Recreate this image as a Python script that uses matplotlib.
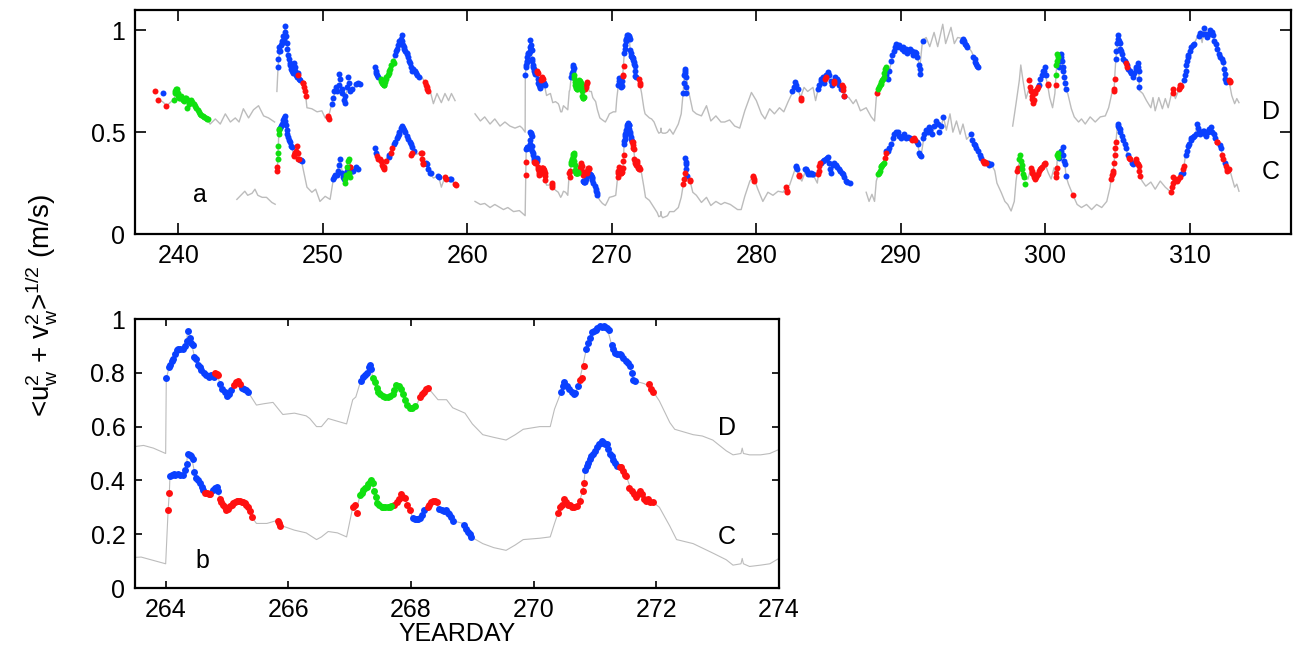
import numpy as np
import matplotlib
matplotlib.use('Agg')
import matplotlib.pyplot as plt
from matplotlib.ticker import FormatStrFormatter

plt.rcParams['font.family'] = ['Liberation Sans', 'DejaVu Sans']
plt.rcParams['mathtext.default'] = 'regular'
plt.rcParams['font.size'] = 18

nan = np.nan

# ---- mooring D: gray trace (nan = data gap) ----
d_line_x = [238.6, 238.9, 239.2, 239.5, 239.7, 239.9, 240.1, 240.4, 240.7, 241.0, 241.3, 241.5, 241.8, 242.0,
            242.2, 242.56, 242.9, 243.25, 243.6, 243.94, 244.2, 244.5, 244.86, 245.2, 245.55, 245.9, 246.24, 246.66, nan,
            246.82, 246.9, 247.0, 247.15, 247.28, 247.4, 247.5, 247.63, 247.86, 248.09, 248.3, 248.5, 248.66, 248.78,
            248.9, 249.24, 249.6, 249.93, 250.16, 250.39, 250.62, 250.85, 251.0, 251.2, 251.4, 251.54, 251.77, 252.0,
            252.35, 252.58, nan,
            253.62, 253.75, 254.0, 254.26, 254.45, 254.65, 254.88, 255.1, 255.35, 255.46, 255.7, 255.92, 256.15, 256.4,
            256.61, 256.85, 257.07, 257.26, 257.42, 257.65, 257.9, 258.2, 258.45, 258.7, 258.9, 259.15, nan,
            260.53, 260.9, 261.2, 261.57, 261.9, 262.26, 262.6, 262.95, 263.3, 263.64, 263.8, 264.0,
            264.01, 264.07, 264.12, 264.2, 264.28, 264.34, 264.36, 264.42, 264.47, 264.53, 264.58, 264.66, 264.75,
            264.83, 264.9, 264.97, 265.02, 265.08, 265.18, 265.26, 265.34, 265.48, 265.6, 265.75, 265.91, 266.1,
            266.29, 266.35, 266.46, 266.54, 266.65, 266.8, 266.95, 267.05, 267.1, 267.18, 267.28, 267.33, 267.38,
            267.49, 267.6, 267.7, 267.76, 267.84, 267.9, 267.98, 268.07, 268.15, 268.25, 268.33, 268.44, 268.58,
            268.68, 268.88, 269.0, 269.17, 269.35, 269.55, 269.7, 269.83, 270.1, 270.27, 270.34, 270.45, 270.5,
            270.58, 270.67, 270.75, 270.8, 270.86, 270.95, 271.08, 271.2, 271.27, 271.35, 271.43, 271.5, 271.57,
            271.62, 271.72, 271.8, 271.88, 271.95, 272.05, 272.22, 272.3, 272.45, 272.6, 272.75, 272.92, 273.14,
            273.25, 273.38, 273.4, 273.42, 273.52, 273.7, 273.85, 274.0, 274.24, 274.6, 274.8, 274.93, 275.05,
            275.15, 275.3, 275.6, 275.85, 276.2, 276.55, 276.85, 277.2, 277.55, 277.81, 278.15, 278.5, 278.85,
            279.2, 279.66, 280.0, 280.35, 280.6, 280.92, 281.25, 281.6, 281.9, 282.2, 282.5, 282.76, 283.06, 283.3,
            283.55, 283.92, 284.1, 284.27, 284.5, 284.77, 284.95, 285.15, 285.37, 285.55, 285.92, 286.04, 286.4,
            286.7, 286.9, 287.2, 287.6, 287.95, 288.18, 288.3, 288.37, 288.53, 288.64, 288.83, 289.0, 289.2, 289.45,
            289.68, 290.0, 290.36, 290.7, 290.95, 291.17, 291.3, 291.5, 291.75, 292.0, 292.3, 292.55, 292.9, 293.1,
            293.47, 293.7, 293.93, 294.27, 294.5, 294.75, 294.9, 295.1, 295.2, 295.33, nan,
            297.74, 297.97, 298.2, 298.3, 298.45, 298.66, 298.9, 299.1, 299.3, 299.5, 299.7, 299.93, 300.15, 300.3,
            300.5, 300.66, 300.75, 300.9, 301.0, 301.1, 301.2, 301.3, 301.4, 301.55, 301.8, 302.0, 302.3, 302.5,
            302.76, 303.1, 303.45, 303.8, 304.15, 304.38, 304.6, 304.76, 304.82, 304.88, 305.05, 305.15, 305.3,
            305.45, 305.6, 305.8, 306.05, 306.28, 306.46, 306.5, 306.74, 307.0, 307.3, 307.45, 307.6, 307.85, 308.1,
            308.3, 308.5, 308.8, 309.0, 309.3, 309.45, 309.6, 309.72, 309.85, 310.1, 310.3, 310.5, 310.7, 310.85,
            311.0, 311.2, 311.4, 311.6, 311.8, 312.0, 312.3, 312.4, 312.5, 312.7, 312.9, 313.1, 313.25, 313.4]
d_line_y = [0.66, 0.65, 0.63, 0.65, 0.66, 0.71, 0.67, 0.65, 0.64, 0.64, 0.61, 0.59, 0.58, 0.565,
            0.54, 0.565, 0.54, 0.59, 0.55, 0.57, 0.55, 0.615, 0.57, 0.61, 0.63, 0.58, 0.57, 0.55, nan,
            0.70, 0.82, 0.90, 0.94, 0.965, 1.02, 0.95, 0.87, 0.81, 0.835, 0.77, 0.755, 0.74, 0.70,
            0.62, 0.615, 0.60, 0.605, 0.57, 0.575, 0.64, 0.70, 0.72, 0.74, 0.69, 0.68, 0.72, 0.70,
            0.735, 0.74, nan,
            0.82, 0.79, 0.76, 0.73, 0.77, 0.81, 0.85, 0.90, 0.95, 0.975, 0.91, 0.885, 0.81, 0.80,
            0.78, 0.77, 0.745, 0.70, 0.705, 0.64, 0.69, 0.645, 0.69, 0.655, 0.69, 0.655, nan,
            0.59, 0.555, 0.575, 0.54, 0.565, 0.53, 0.55, 0.53, 0.52, 0.53, 0.52, 0.50,
            0.78, 0.83, 0.85, 0.89, 0.89, 0.92, 0.955, 0.91, 0.86, 0.83, 0.81, 0.79, 0.79,
            0.80, 0.75, 0.72, 0.71, 0.74, 0.765, 0.74, 0.73, 0.68, 0.685, 0.69, 0.645, 0.65,
            0.64, 0.63, 0.60, 0.60, 0.63, 0.62, 0.61, 0.70, 0.71, 0.77, 0.80, 0.83, 0.78,
            0.72, 0.71, 0.715, 0.755, 0.74, 0.70, 0.67, 0.67, 0.71, 0.745, 0.73, 0.70, 0.70,
            0.67, 0.65, 0.61, 0.57, 0.56, 0.55, 0.57, 0.59, 0.60, 0.60, 0.665, 0.73, 0.765,
            0.74, 0.72, 0.775, 0.825, 0.89, 0.95, 0.975, 0.965, 0.905, 0.875, 0.865, 0.845, 0.826,
            0.775, 0.765, 0.76, 0.75, 0.73, 0.695, 0.615, 0.59, 0.58, 0.57, 0.565, 0.55, 0.51,
            0.495, 0.50, 0.52, 0.50, 0.495, 0.495, 0.50, 0.515, 0.49, 0.54, 0.59, 0.69, 0.81,
            0.77, 0.705, 0.605, 0.59, 0.58, 0.63, 0.555, 0.58, 0.55, 0.55, 0.56, 0.53, 0.52,
            0.605, 0.695, 0.655, 0.59, 0.565, 0.615, 0.59, 0.62, 0.60, 0.65, 0.695, 0.745, 0.67, 0.72,
            0.70, 0.72, 0.655, 0.71, 0.76, 0.76, 0.795, 0.72, 0.75, 0.77, 0.73, 0.68, 0.67,
            0.64, 0.66, 0.605, 0.62, 0.575, 0.555, 0.67, 0.69, 0.72, 0.745, 0.77, 0.82, 0.80, 0.885,
            0.935, 0.92, 0.91, 0.90, 0.895, 0.87, 0.81, 0.95, 0.965, 0.92, 0.99, 0.92, 1.03, 0.935,
            1.015, 0.935, 0.965, 0.96, 0.935, 0.91, 0.895, 0.86, 0.835, 0.82, nan,
            0.53, 0.64, 0.755, 0.83, 0.755, 0.665, 0.72, 0.665, 0.69, 0.72, 0.755, 0.80, 0.735, 0.67,
            0.62, 0.69, 0.80, 0.85, 0.82, 0.885, 0.81, 0.77, 0.71, 0.69, 0.615, 0.575, 0.55, 0.565,
            0.54, 0.575, 0.55, 0.575, 0.58, 0.62, 0.69, 0.71, 0.795, 0.86, 0.975, 0.94, 0.885,
            0.85, 0.84, 0.81, 0.77, 0.81, 0.845, 0.705, 0.69, 0.655, 0.62, 0.67, 0.605, 0.67, 0.615,
            0.665, 0.62, 0.71, 0.665, 0.72, 0.73, 0.755, 0.80, 0.87, 0.92, 0.935, 0.965, 0.985, 0.94,
            1.01, 0.965, 1.0, 0.975, 0.935, 0.885, 0.845, 0.785, 0.745, 0.755, 0.68, 0.64, 0.665, 0.645]

# ---- mooring C: gray trace ----
c_line_x = [244.05, 244.4, 244.6, 244.8, 245.1, 245.3, 245.5, 245.8, 246.1, 246.47, 246.7, nan,
            246.82, 246.86, 246.9, 246.95, 247.0, 247.17, 247.35, 247.5, 247.63, 247.86, 247.97, 248.08, 248.2,
            248.3, 248.5, 248.9, 249.24, 249.5, 249.8, 250.16, 250.5, 250.74, 250.95, 251.2, 251.4, 251.54,
            251.77, 251.9, 252.1, 252.46, nan,
            253.62, 253.75, 253.97, 254.2, 254.5, 254.77, 255.0, 255.23, 255.46, 255.7, 255.92, 256.15, 256.4,
            256.84, 256.95, 257.2, 257.4, 257.65, 258.0, 258.2, 258.45, 258.8, 259.15, nan,
            260.53, 260.9, 261.2, 261.57, 261.9, 262.5, 262.8, 263.2, 263.6, 264.0, 264.04, 264.06, 264.07,
            264.12, 264.2, 264.28, 264.34, 264.36, 264.42, 264.47, 264.53, 264.61, 264.66, 264.8, 264.85, 264.9,
            264.99, 265.1, 265.18, 265.26, 265.34, 265.4, 265.48, 265.65, 265.8, 265.91, 266.1, 266.29, 266.46,
            266.54, 266.65, 266.8, 266.95, 267.05, 267.12, 267.17, 267.25, 267.35, 267.4, 267.45, 267.55, 267.68,
            267.73, 267.84, 267.9, 267.98, 268.03, 268.14, 268.22, 268.3, 268.38, 268.46, 268.57, 268.62, 268.68,
            268.85, 268.98, 269.17, 269.35, 269.55, 269.7, 269.83, 270.1, 270.27, 270.34, 270.4, 270.45, 270.5,
            270.6, 270.7, 270.75, 270.8, 270.82, 270.84, 270.89, 270.94, 271.03, 271.11, 271.19, 271.27, 271.33,
            271.43, 271.51, 271.6, 271.67, 271.75, 271.83, 271.94, 272.05, 272.22, 272.33, 272.6, 272.92, 273.14,
            273.25, 273.38, 273.4, 273.42, 273.52, 273.7, 273.85, 274.0, 274.3, 274.6, 274.8, 274.95, 275.05,
            275.1, 275.2, 275.4, 275.6, 275.85, 276.2, 276.55, 276.85, 277.2, 277.55, 277.81, 278.2, 278.7,
            278.95, 279.2, 279.55, 279.78, 279.9, 280.1, 280.45, 280.8, 281.15, 281.5, 281.85, 282.07, 282.3,
            282.76, 282.93, 283.15, 283.45, 283.68, 283.9, 284.22, 284.3, 284.4, 284.62, 284.95, 285.15, 285.4,
            285.75, 285.98, 286.2, 286.45, nan,
            287.6, 287.8, 288.0, 288.18, 288.3, 288.45, 288.6, 288.75, 288.87, 288.94, 289.1, 289.33, 289.56,
            289.79, 290.14, 290.48, 290.83, 291.0, 291.17, 291.3, 291.4, 291.63, 291.97, 292.2, 292.45, 292.8,
            292.95, 293.15, 293.4, 293.6, 293.85, 294.1, 294.3, 294.55, 294.87, 295.1, 295.33, 295.56, 295.67,
            295.9, 296.25, 296.5, 296.65, 296.94, 297.2, 297.4, 297.63, 297.85, 297.97, 298.1, 298.25, 298.45,
            298.6, 298.8, 299.0, 299.15, 299.3, 299.5, 299.7, 299.95, 300.2, 300.4, 300.6, 300.75, 300.85, 301.0,
            301.2, 301.35, 301.43, 301.6, 301.92, 302.2, 302.5, 302.85, 303.2, 303.55, 303.9, 304.25, 304.48,
            304.55, 304.7, 304.8, 304.88, 305.0, 305.15, 305.3, 305.5, 305.7, 305.8, 306.05, 306.28, 306.46,
            306.55, 306.7, 306.95, 307.3, 307.6, 307.95, 308.3, 308.7, 308.86, 309.1, 309.3, 309.4, 309.6, 309.7,
            309.95, 310.2, 310.4, 310.5, 310.7, 310.95, 311.2, 311.45, 311.65, 311.9, 312.1, 312.25, 312.4,
            312.5, 312.6, 312.75, 312.9, 313.1, 313.25, 313.4]
c_line_y = [0.17, 0.195, 0.21, 0.19, 0.20, 0.22, 0.19, 0.18, 0.18, 0.155, 0.146, nan,
            0.31, 0.33, 0.40, 0.49, 0.515, 0.54, 0.58, 0.525, 0.465, 0.425, 0.385, 0.40, 0.43,
            0.37, 0.365, 0.23, 0.205, 0.22, 0.16, 0.185, 0.17, 0.275, 0.29, 0.37, 0.275, 0.27,
            0.365, 0.33, 0.31, 0.33, nan,
            0.42, 0.385, 0.37, 0.32, 0.38, 0.42, 0.45, 0.49, 0.53, 0.50, 0.465, 0.425, 0.39,
            0.40, 0.345, 0.345, 0.30, 0.275, 0.285, 0.23, 0.28, 0.27, 0.245, nan,
            0.16, 0.145, 0.15, 0.13, 0.145, 0.12, 0.13, 0.11, 0.115, 0.09, 0.29, 0.355, 0.415,
            0.42, 0.425, 0.42, 0.46, 0.50, 0.49, 0.43, 0.40, 0.365, 0.355, 0.37, 0.36, 0.32,
            0.29, 0.31, 0.325, 0.32, 0.30, 0.265, 0.24, 0.24, 0.25, 0.23, 0.215, 0.205, 0.18,
            0.19, 0.21, 0.205, 0.19, 0.30, 0.30, 0.345, 0.37, 0.40, 0.36, 0.315, 0.30, 0.305,
            0.31, 0.35, 0.335, 0.29, 0.26, 0.26, 0.29, 0.31, 0.325, 0.295, 0.29, 0.275, 0.25,
            0.24, 0.19, 0.165, 0.15, 0.14, 0.16, 0.18, 0.185, 0.19, 0.24, 0.28, 0.30, 0.33,
            0.31, 0.30, 0.325, 0.36, 0.39, 0.44, 0.465, 0.49, 0.525, 0.545, 0.535, 0.49, 0.465,
            0.45, 0.415, 0.36, 0.34, 0.36, 0.325, 0.32, 0.30, 0.23, 0.18, 0.165, 0.13, 0.105,
            0.085, 0.09, 0.11, 0.09, 0.08, 0.085, 0.09, 0.11, 0.11, 0.13, 0.18, 0.245, 0.30,
            0.345, 0.285, 0.265, 0.205, 0.19, 0.155, 0.18, 0.14, 0.16, 0.145, 0.155, 0.145, 0.12,
            0.12, 0.185, 0.26, 0.28, 0.26, 0.22, 0.16, 0.205, 0.19, 0.21, 0.205, 0.23, 0.24,
            0.335, 0.285, 0.26, 0.32, 0.295, 0.295, 0.25, 0.295, 0.335, 0.36, 0.375, 0.30, 0.35,
            0.32, 0.295, 0.26, 0.25, nan,
            0.205, 0.16, 0.195, 0.16, 0.26, 0.295, 0.33, 0.345, 0.375, 0.40, 0.41, 0.44, 0.49,
            0.50, 0.48, 0.475, 0.465, 0.465, 0.44, 0.39, 0.385, 0.49, 0.525, 0.50, 0.555, 0.53,
            0.575, 0.51, 0.59, 0.50, 0.555, 0.49, 0.54, 0.465, 0.49, 0.435, 0.41, 0.375, 0.36,
            0.35, 0.345, 0.31, 0.25, 0.205, 0.16, 0.145, 0.113, 0.16, 0.26, 0.325, 0.36, 0.295,
            0.27, 0.27, 0.325, 0.295, 0.27, 0.295, 0.325, 0.35, 0.30, 0.27, 0.325, 0.28, 0.40, 0.375,
            0.425, 0.345, 0.285, 0.245, 0.19, 0.145, 0.13, 0.145, 0.12, 0.145, 0.13, 0.16, 0.23,
            0.27, 0.31, 0.39, 0.45, 0.54, 0.515, 0.48, 0.44, 0.39, 0.375, 0.345, 0.37, 0.335,
            0.285, 0.26, 0.235, 0.255, 0.22, 0.26, 0.23, 0.205, 0.28, 0.26, 0.28, 0.295, 0.335, 0.39,
            0.44, 0.475, 0.49, 0.54, 0.49, 0.505, 0.48, 0.525, 0.49, 0.45, 0.435, 0.39, 0.35,
            0.335, 0.31, 0.32, 0.28, 0.23, 0.245, 0.21]

# ---- D: colored points ----
d_blue_x = [238.92,
            246.88, 246.92, 246.95, 247.0, 247.05, 247.1, 247.15, 247.2, 247.25, 247.3, 247.35, 247.4, 247.45,
            247.5, 247.55, 247.6, 247.65, 247.7, 247.75, 247.8, 247.85, 247.9, 247.95, 248.0, 248.05, 248.1,
            248.15, 248.2, 248.25, 248.35, 248.45,
            250.6, 250.7, 250.8, 250.9, 251.0, 251.1, 251.15, 251.2, 251.3, 251.35, 251.45, 251.5, 251.55, 251.65,
            251.75, 251.8, 251.9, 252.0, 252.3, 252.45, 252.55,
            253.62, 253.66, 253.7, 253.75, 253.85, 255.0, 255.05, 255.1, 255.2, 255.3, 255.4, 255.46, 255.5,
            255.55, 255.6, 255.65, 255.7, 255.8, 255.85, 255.9, 255.95, 256.0, 256.1, 256.15, 256.25, 256.35,
            256.45, 256.55, 256.65,
            264.01, 264.05, 264.07, 264.1, 264.12, 264.15, 264.18, 264.2, 264.24, 264.28, 264.31, 264.34, 264.36,
            264.39, 264.42, 264.45, 264.47, 264.5, 264.53, 264.56, 264.58, 264.62, 264.66, 264.7, 264.74, 264.78,
            264.88, 264.92, 264.96, 265.0, 265.03, 265.06, 265.25, 265.28, 265.31, 265.34,
            267.18, 267.22, 267.25, 267.28, 267.31, 267.33, 267.35,
            270.45, 270.48, 270.5, 270.54, 270.58, 270.62, 270.65, 270.68, 270.72, 270.86, 270.89, 270.92, 270.95,
            270.98, 271.01, 271.04, 271.08, 271.11, 271.14, 271.17, 271.2, 271.23, 271.27, 271.3, 271.33, 271.36,
            271.4, 271.43, 271.46, 271.5, 271.53, 271.57, 271.6, 271.62, 271.65,
            274.93, 274.97, 275.0, 275.03, 275.05, 275.08, 275.1, 275.13, 275.15,
            282.5, 282.6, 282.7, 282.76, 282.85,
            284.27, 284.35, 284.45, 284.5, 284.6, 284.7, 284.85, 284.95, 285.05, 285.15, 285.25, 285.45, 285.55,
            285.65, 285.75, 285.85, 286.1,
            288.95, 289.05, 289.1, 289.2, 289.3, 289.4, 289.5, 289.6, 289.68, 289.75, 289.85, 289.95, 290.05,
            290.15, 290.25, 290.35, 290.45, 290.55, 290.65, 290.75, 290.85, 290.95, 291.05, 291.15, 291.25, 291.3,
            291.35, 291.5,
            294.2, 294.27, 294.35, 294.45, 294.5, 294.6, 295.0, 295.1, 295.15, 295.2, 295.28, 295.33,
            299.55, 299.65, 299.75, 299.85, 299.93, 300.0, 300.05, 300.95, 301.0, 301.05, 301.1, 301.15, 301.2,
            301.25, 301.3, 301.35, 301.4,
            304.88, 304.92, 304.96, 305.0, 305.05, 305.1, 305.15, 305.2, 305.25, 305.3, 305.4, 305.5, 305.65,
            305.75, 305.85, 305.95, 306.05, 306.15, 306.25, 306.3, 306.38, 306.42, 306.46, 306.48, 306.5,
            309.6, 309.65, 309.7, 309.75, 309.8, 309.85, 309.9, 310.0, 310.1, 310.2, 310.3, 310.6, 310.7, 310.9,
            311.0, 311.1, 311.2, 311.3, 311.4, 311.5, 311.6, 311.7, 311.8, 311.9, 312.0, 312.1, 312.2, 312.3,
            312.35, 312.4, 312.45, 312.5]
d_blue_y = [0.69,
            0.82, 0.86, 0.90, 0.92, 0.90, 0.93, 0.94, 0.95, 0.97, 0.96, 0.99, 1.02, 0.97,
            0.94, 0.91, 0.88, 0.86, 0.84, 0.83, 0.81, 0.80, 0.79, 0.82, 0.84, 0.82, 0.80,
            0.78, 0.77, 0.79, 0.76, 0.755,
            0.64, 0.67, 0.70, 0.72, 0.70, 0.73, 0.785, 0.76, 0.71, 0.69, 0.66, 0.645, 0.68, 0.72,
            0.77, 0.74, 0.70, 0.71, 0.735, 0.74, 0.735,
            0.82, 0.80, 0.79, 0.78, 0.77, 0.88, 0.90, 0.91, 0.93, 0.95, 0.96, 0.975, 0.95,
            0.93, 0.92, 0.91, 0.90, 0.89, 0.885, 0.87, 0.85, 0.84, 0.82, 0.80, 0.81, 0.80,
            0.79, 0.78, 0.77,
            0.78, 0.82, 0.83, 0.845, 0.85, 0.87, 0.885, 0.89, 0.89, 0.89, 0.90, 0.92, 0.955,
            0.93, 0.91, 0.905, 0.86, 0.85, 0.83, 0.82, 0.81, 0.80, 0.79, 0.785, 0.79, 0.785,
            0.76, 0.74, 0.73, 0.715, 0.72, 0.735, 0.745, 0.74, 0.735, 0.73,
            0.77, 0.785, 0.79, 0.80, 0.82, 0.83, 0.815,
            0.73, 0.75, 0.765, 0.75, 0.74, 0.73, 0.72, 0.725, 0.75, 0.89, 0.91, 0.93, 0.95,
            0.955, 0.96, 0.965, 0.975, 0.97, 0.975, 0.97, 0.965, 0.96, 0.905, 0.89, 0.875, 0.87,
            0.87, 0.865, 0.855, 0.845, 0.835, 0.826, 0.80, 0.775, 0.77,
            0.69, 0.74, 0.78, 0.80, 0.81, 0.79, 0.77, 0.72, 0.69,
            0.70, 0.72, 0.745, 0.73, 0.71,
            0.71, 0.73, 0.75, 0.76, 0.77, 0.74, 0.78, 0.795, 0.78, 0.75, 0.73, 0.77, 0.76,
            0.75, 0.73, 0.71, 0.68,
            0.78, 0.80, 0.76, 0.80, 0.85, 0.88, 0.90, 0.92, 0.935, 0.92, 0.93, 0.92, 0.91,
            0.92, 0.90, 0.91, 0.89, 0.90, 0.91, 0.90, 0.88, 0.895, 0.89, 0.87, 0.83, 0.81,
            0.785, 0.95,
            0.95, 0.96, 0.95, 0.935, 0.93, 0.92, 0.87, 0.86, 0.845, 0.835, 0.825, 0.82,
            0.73, 0.76, 0.78, 0.80, 0.80, 0.82, 0.78, 0.82, 0.85, 0.87, 0.885, 0.85, 0.82,
            0.80, 0.77, 0.74, 0.71,
            0.86, 0.90, 0.94, 0.96, 0.975, 0.95, 0.94, 0.91, 0.90, 0.885, 0.86, 0.85, 0.83,
            0.81, 0.80, 0.79, 0.77, 0.79, 0.81, 0.82, 0.84, 0.82, 0.80, 0.76, 0.72,
            0.755, 0.78, 0.80, 0.83, 0.85, 0.87, 0.88, 0.90, 0.92, 0.93, 0.935, 0.97, 0.985, 0.98,
            1.01, 0.98, 0.965, 0.98, 1.0, 0.99, 0.975, 0.95, 0.935, 0.91, 0.885, 0.87, 0.86, 0.845,
            0.81, 0.785, 0.76, 0.745]

d_red_x = [238.41, 238.6, 239.17, 248.3, 248.6, 248.66, 248.72, 248.78, 248.8, 250.36, 250.39, 250.42,
           257.07, 257.12, 257.18, 257.22, 257.26,
           264.8, 264.83, 264.86, 265.12, 265.15, 265.18, 265.21,
           268.15, 268.18, 268.21, 268.25, 268.28,
           270.75, 270.78, 270.82, 271.88, 271.92, 271.95,
           283.06, 283.1, 284.77, 284.8, 285.37, 285.4, 285.92, 285.97, 286.0, 286.04, 288.37,
           298.9, 298.95, 299.0, 299.05, 299.1, 299.15, 299.2, 299.25, 299.3, 299.4, 299.5, 300.15, 300.2,
           300.72, 304.72, 304.76, 304.8, 305.6, 305.62, 308.8, 308.82, 309.25, 309.3, 309.35, 309.4,
           312.7, 312.75, 312.8]
d_red_y = [0.70, 0.66, 0.63, 0.78, 0.74, 0.74, 0.72, 0.70, 0.68, 0.58, 0.575, 0.565,
           0.745, 0.73, 0.72, 0.71, 0.70,
           0.80, 0.795, 0.79, 0.755, 0.765, 0.77, 0.76,
           0.71, 0.72, 0.73, 0.74, 0.745,
           0.775, 0.78, 0.825, 0.76, 0.74, 0.73,
           0.67, 0.66, 0.76, 0.77, 0.75, 0.74, 0.73, 0.72, 0.705, 0.68, 0.69,
           0.755, 0.72, 0.70, 0.68, 0.665, 0.645, 0.66, 0.69, 0.70, 0.71, 0.72, 0.735, 0.73,
           0.73, 0.70, 0.71, 0.76, 0.84, 0.82, 0.71, 0.69, 0.71, 0.72, 0.73, 0.725,
           0.755, 0.745, 0.75]

d_green_x = [239.68, 239.75, 239.8, 239.85, 239.9, 239.95, 240.0, 240.05, 240.1, 240.2, 240.3, 240.37,
             240.45, 240.55, 240.6, 240.65, 240.75, 240.85, 240.95, 241.06, 241.15, 241.25, 241.35, 241.45,
             241.52, 241.6, 241.7, 241.8, 241.9, 241.98, 242.05,
             254.0, 254.05, 254.1, 254.15, 254.2, 254.26, 254.3, 254.35, 254.4, 254.5, 254.55, 254.6, 254.65,
             254.75, 254.85, 254.9,
             267.38, 267.41, 267.44, 267.47, 267.5, 267.54, 267.58, 267.62, 267.66, 267.7, 267.73, 267.76,
             267.8, 267.84, 267.87, 267.9, 267.94, 267.98, 268.02, 268.07,
             288.45, 288.5, 288.55, 288.6, 288.65, 288.7, 288.75, 288.8, 288.85, 288.9, 288.95,
             300.75, 300.77, 300.8, 300.83, 300.85]
d_green_y = [0.66, 0.69, 0.70, 0.71, 0.71, 0.69, 0.68, 0.67, 0.67, 0.68, 0.66, 0.655,
             0.67, 0.67, 0.62, 0.66, 0.64, 0.66, 0.65, 0.64, 0.63, 0.62, 0.61, 0.60,
             0.59, 0.585, 0.58, 0.575, 0.57, 0.565, 0.565,
             0.76, 0.75, 0.74, 0.735, 0.73, 0.73, 0.745, 0.76, 0.77, 0.78, 0.79, 0.80, 0.81,
             0.83, 0.85, 0.84,
             0.78, 0.765, 0.745, 0.73, 0.72, 0.715, 0.71, 0.71, 0.715, 0.72, 0.735, 0.755,
             0.75, 0.74, 0.72, 0.70, 0.68, 0.67, 0.67, 0.675,
             0.71, 0.72, 0.73, 0.735, 0.745, 0.755, 0.76, 0.77, 0.79, 0.81, 0.82,
             0.78, 0.83, 0.885, 0.85, 0.87]

# ---- C: colored points ----
c_blue_x = [247.05, 247.1, 247.17, 247.25, 247.3, 247.35, 247.4, 247.45, 247.5, 247.55, 247.6, 247.65, 247.7,
            247.8, 247.86, 248.45, 248.5, 248.55,
            250.7, 250.75, 250.85, 250.95, 251.05, 251.15, 251.2, 251.3, 251.4, 251.45, 251.55, 251.65, 252.0,
            252.1, 252.3, 252.4,
            253.62, 253.65, 254.55, 254.6, 254.9, 255.0, 255.1, 255.2, 255.25, 255.3, 255.4, 255.46, 255.52,
            255.6, 255.7, 255.8, 255.9, 256.0, 256.1, 256.15, 256.3, 257.15, 257.2, 257.3, 257.4, 257.45,
            258.0, 258.05, 258.8, 258.85,
            264.07, 264.1, 264.13, 264.16, 264.2, 264.24, 264.28, 264.31, 264.34, 264.36, 264.39, 264.42, 264.45,
            264.47, 264.5, 264.53, 264.56, 264.59, 264.61, 264.77, 264.8, 264.83, 264.85,
            268.03, 268.06, 268.09, 268.12, 268.15, 268.18, 268.22, 268.46, 268.5, 268.53, 268.57, 268.6, 268.62,
            268.65, 268.68, 268.86, 268.9, 268.93, 268.96, 268.98,
            270.84, 270.87, 270.89, 270.92, 270.94, 270.97, 271.0, 271.03, 271.06, 271.09, 271.11, 271.14, 271.17,
            271.19, 271.22, 271.25, 271.27, 271.3, 271.33, 271.36,
            275.08, 275.1, 275.12, 275.15, 275.2,
            282.72, 282.76, 282.8, 283.4, 283.45, 283.5, 283.55, 283.6, 283.68, 283.75, 283.85, 283.9, 284.5,
            284.62, 284.7, 284.8, 284.9, 284.95, 285.05, 285.1, 285.15, 285.3, 285.4, 285.5, 285.6, 285.7, 285.8,
            285.9, 285.98, 286.1, 286.2, 286.3, 286.45,
            289.0, 289.1, 289.2, 289.33, 289.45, 289.56, 289.65, 289.79, 289.9, 290.0, 290.14, 290.25, 290.35,
            290.48, 290.6, 291.1, 291.17, 291.25, 291.3, 291.4, 291.55, 291.63, 291.75, 291.85, 291.97, 292.05,
            292.15, 292.3, 292.45, 292.55, 292.65, 292.8, 292.95,
            294.87, 294.95, 295.05, 295.1, 295.2, 295.33, 295.45, 295.56, 296.0, 296.1, 296.25,
            300.95, 301.0, 301.1, 301.2, 301.25, 301.3, 301.35, 301.43,
            305.0, 305.05, 305.1, 305.15, 305.2, 305.3, 305.4, 305.5, 305.6, 305.7, 306.0, 306.05, 306.1,
            309.4, 309.5, 309.7, 309.8, 309.9, 309.95, 310.05, 310.1, 310.2, 310.3, 310.4, 310.5, 310.55, 310.6,
            310.7, 310.8, 310.9, 310.95, 311.05, 311.15, 311.25, 311.35, 311.45, 311.55, 311.65, 311.75, 312.1,
            312.15, 312.4]
c_blue_y = [0.52, 0.53, 0.54, 0.56, 0.57, 0.58, 0.555, 0.535, 0.51, 0.49, 0.475, 0.46, 0.45,
            0.43, 0.425, 0.365, 0.365, 0.36,
            0.27, 0.28, 0.29, 0.29, 0.31, 0.34, 0.37, 0.30, 0.28, 0.27, 0.29, 0.31, 0.31,
            0.31, 0.33, 0.32,
            0.42, 0.40, 0.38, 0.39, 0.44, 0.45, 0.47, 0.48, 0.49, 0.50, 0.52, 0.53, 0.52,
            0.51, 0.50, 0.48, 0.465, 0.45, 0.44, 0.425, 0.41, 0.35, 0.345, 0.32, 0.30, 0.30,
            0.285, 0.28, 0.27, 0.27,
            0.415, 0.42, 0.425, 0.42, 0.425, 0.42, 0.42, 0.44, 0.46, 0.50, 0.495, 0.49, 0.48,
            0.43, 0.41, 0.40, 0.39, 0.375, 0.365, 0.365, 0.37, 0.375, 0.36,
            0.26, 0.255, 0.255, 0.255, 0.26, 0.27, 0.29, 0.295, 0.29, 0.285, 0.29, 0.28, 0.275,
            0.265, 0.25, 0.235, 0.22, 0.21, 0.20, 0.19,
            0.44, 0.455, 0.465, 0.48, 0.49, 0.50, 0.51, 0.525, 0.535, 0.54, 0.545, 0.54, 0.535,
            0.535, 0.515, 0.50, 0.49, 0.475, 0.465, 0.455,
            0.375, 0.355, 0.345, 0.32, 0.285,
            0.33, 0.335, 0.32, 0.32, 0.32, 0.31, 0.30, 0.295, 0.295, 0.30, 0.295, 0.295, 0.35,
            0.36, 0.365, 0.37, 0.375, 0.38, 0.35, 0.32, 0.30, 0.34, 0.35, 0.34, 0.33, 0.32, 0.31,
            0.30, 0.295, 0.28, 0.26, 0.255, 0.25,
            0.41, 0.41, 0.42, 0.44, 0.47, 0.49, 0.50, 0.50, 0.48, 0.47, 0.48, 0.49, 0.47,
            0.475, 0.47, 0.45, 0.44, 0.40, 0.39, 0.385, 0.47, 0.49, 0.51, 0.50, 0.525, 0.51,
            0.49, 0.53, 0.555, 0.54, 0.50, 0.53, 0.575,
            0.49, 0.46, 0.44, 0.435, 0.42, 0.41, 0.39, 0.375, 0.35, 0.34, 0.345,
            0.375, 0.39, 0.41, 0.425, 0.39, 0.36, 0.345, 0.285,
            0.54, 0.53, 0.52, 0.515, 0.50, 0.48, 0.46, 0.44, 0.42, 0.39, 0.35, 0.345, 0.35,
            0.295, 0.30, 0.39, 0.41, 0.43, 0.44, 0.46, 0.47, 0.475, 0.48, 0.49, 0.54, 0.52, 0.50,
            0.49, 0.50, 0.505, 0.505, 0.49, 0.48, 0.50, 0.515, 0.525, 0.50, 0.49, 0.47, 0.435,
            0.42, 0.35]

c_red_x = [246.82, 246.86, 247.97, 248.0, 248.05, 248.08, 248.12, 248.2, 248.25, 248.3, 248.35,
           251.85, 251.9,
           253.75, 253.85, 253.97, 254.05, 254.1, 254.15, 254.2, 254.25, 254.4, 254.7, 254.77, 256.1, 256.15,
           256.8, 256.84, 256.88, 256.92, 256.95, 258.45, 258.5, 259.15, 259.18,
           264.04, 264.06, 264.64, 264.67, 264.7, 264.73, 264.88, 264.9, 264.93, 264.96, 264.99, 265.02, 265.05,
           265.08, 265.1, 265.13, 265.16, 265.18, 265.21, 265.24, 265.26, 265.29, 265.31, 265.34, 265.37, 265.4,
           265.83, 265.85, 265.87,
           267.05, 267.08, 267.12, 267.73, 267.77, 267.8, 267.84, 267.87, 267.9, 267.94, 267.98, 268.27, 268.3,
           268.33, 268.36, 268.39, 268.42,
           270.4, 270.43, 270.46, 270.5, 270.53, 270.56, 270.6, 270.63, 270.66, 270.7, 270.75, 270.8, 270.82,
           271.41, 271.43, 271.46, 271.49, 271.51, 271.56, 271.6, 271.63, 271.67, 271.7, 271.73, 271.76, 271.8,
           271.83, 271.86, 271.9, 271.94,
           274.95, 275.0, 275.05, 275.4, 275.42,
           279.75, 279.78, 279.82, 279.85, 282.07, 282.1, 282.13, 282.93, 282.96, 284.3, 284.33, 284.37, 284.4,
           288.87, 288.94, 290.75, 290.83, 290.9, 290.95, 295.67, 295.75, 295.85, 295.9,
           298.05, 298.1, 299.0, 299.05, 299.1, 299.15, 299.2, 299.3, 299.35, 299.4, 299.5, 299.55, 299.6, 299.7,
           299.8, 299.9, 299.95, 300.0, 300.72, 300.75, 300.78, 301.92,
           304.55, 304.6, 304.65, 304.7, 304.75, 304.8, 304.85, 304.88, 305.8, 305.85, 306.25, 306.3, 306.35,
           306.4, 306.46, 306.5, 306.55,
           308.7, 308.75, 308.8, 308.86, 308.95, 309.05, 309.1, 309.2, 309.3, 309.55, 309.6, 311.85, 311.9,
           312.25, 312.3, 312.5, 312.55, 312.6, 312.65, 312.7]
c_red_y = [0.31, 0.33, 0.385, 0.39, 0.40, 0.40, 0.41, 0.43, 0.40, 0.37, 0.37,
           0.33, 0.33,
           0.385, 0.37, 0.37, 0.36, 0.34, 0.33, 0.32, 0.33, 0.36, 0.40, 0.42, 0.39, 0.40,
           0.40, 0.40, 0.37, 0.35, 0.345, 0.28, 0.27, 0.245, 0.24,
           0.29, 0.355, 0.355, 0.355, 0.35, 0.35, 0.33, 0.32, 0.31, 0.30, 0.29, 0.295, 0.305,
           0.31, 0.315, 0.32, 0.325, 0.325, 0.325, 0.32, 0.32, 0.315, 0.31, 0.30, 0.285, 0.265,
           0.25, 0.24, 0.23,
           0.30, 0.31, 0.28, 0.31, 0.32, 0.33, 0.35, 0.34, 0.335, 0.31, 0.29, 0.30, 0.31,
           0.32, 0.325, 0.325, 0.32,
           0.28, 0.30, 0.31, 0.33, 0.32, 0.31, 0.31, 0.30, 0.30, 0.305, 0.325, 0.36, 0.39,
           0.45, 0.45, 0.435, 0.42, 0.415, 0.37, 0.36, 0.35, 0.34, 0.35, 0.36, 0.35, 0.33,
           0.325, 0.33, 0.32, 0.32,
           0.245, 0.27, 0.30, 0.265, 0.26,
           0.28, 0.285, 0.27, 0.26, 0.23, 0.21, 0.205, 0.285, 0.29, 0.295, 0.31, 0.335, 0.35,
           0.375, 0.40, 0.46, 0.465, 0.47, 0.46, 0.36, 0.35, 0.355, 0.35,
           0.31, 0.325, 0.325, 0.31, 0.30, 0.295, 0.28, 0.27, 0.28, 0.29, 0.295, 0.31, 0.32, 0.325,
           0.33, 0.345, 0.35, 0.345, 0.28, 0.30, 0.325, 0.19,
           0.27, 0.29, 0.30, 0.31, 0.35, 0.39, 0.42, 0.45, 0.375, 0.37, 0.37, 0.36, 0.35,
           0.345, 0.335, 0.31, 0.285,
           0.205, 0.23, 0.25, 0.28, 0.27, 0.265, 0.26, 0.27, 0.28, 0.32, 0.335, 0.45, 0.45,
           0.39, 0.37, 0.335, 0.32, 0.31, 0.315, 0.32]

c_green_x = [246.88, 246.9, 246.92, 246.95, 246.98, 247.0,
             251.5, 251.55, 251.6, 251.7, 251.75, 251.8, 251.82, 251.85,
             267.17, 267.2, 267.22, 267.25, 267.28, 267.3, 267.33, 267.35, 267.38, 267.4, 267.43, 267.45,
             267.48, 267.52, 267.55, 267.58, 267.62, 267.65, 267.68,
             288.45, 288.5, 288.55, 288.6, 288.65, 288.7, 288.75, 288.8,
             298.2, 298.25, 298.3, 298.35, 298.4, 298.45, 298.5, 298.6,
             300.82, 300.85, 300.88]
c_green_y = [0.37, 0.40, 0.43, 0.49, 0.51, 0.515,
             0.27, 0.25, 0.29, 0.33, 0.36, 0.37, 0.30, 0.28,
             0.345, 0.355, 0.365, 0.37, 0.375, 0.385, 0.395, 0.40, 0.39, 0.36, 0.34, 0.315,
             0.31, 0.30, 0.30, 0.30, 0.30, 0.30, 0.305,
             0.295, 0.30, 0.31, 0.33, 0.335, 0.34, 0.345, 0.35,
             0.37, 0.39, 0.36, 0.34, 0.32, 0.295, 0.28, 0.245,
             0.39, 0.40, 0.38]

GRAY = '#bcbcbc'
BLUE = '#0a40ff'
RED = '#ff1010'
GREEN = '#10e010'


def draw(ax, ms, lw):
    ax.plot(d_line_x, d_line_y, color=GRAY, lw=lw, zorder=1)
    ax.plot(c_line_x, c_line_y, color=GRAY, lw=lw, zorder=1)
    for xs, ys, col in [(d_blue_x, d_blue_y, BLUE), (c_blue_x, c_blue_y, BLUE),
                        (d_red_x, d_red_y, RED), (c_red_x, c_red_y, RED),
                        (d_green_x, d_green_y, GREEN), (c_green_x, c_green_y, GREEN)]:
        ax.plot(xs, ys, 'o', color=col, ms=ms, mec='none', zorder=2)


def style(ax, ticklen):
    ax.tick_params(direction='in', top=True, right=True, length=ticklen, width=1.2, labelsize=18, pad=7)
    for s in ax.spines.values():
        s.set_linewidth(1.6)
    ax.yaxis.set_major_formatter(FormatStrFormatter('%g'))


fig = plt.figure(figsize=(12.93, 6.55), dpi=100)

ax1 = fig.add_axes([135 / 1293, 1 - 234 / 655, 1156 / 1293, 224 / 655])
draw(ax1, 4.3, 1.0)
ax1.set_xlim(237, 317)
ax1.set_ylim(0, 1.1)
ax1.set_xticks(np.arange(240, 311, 10))
ax1.set_yticks([0, 0.5, 1])
style(ax1, 8)
ax1.text(241.5, 0.19, 'a', ha='center', va='center', fontsize=18)
ax1.text(315.6, 0.6, 'D', ha='center', va='center', fontsize=18)
ax1.text(315.6, 0.305, 'C', ha='center', va='center', fontsize=18)

ax2 = fig.add_axes([135 / 1293, 1 - 588 / 655, 644 / 1293, 269 / 655])
draw(ax2, 5.0, 0.8)
ax2.set_xlim(263.5, 274)
ax2.set_ylim(0, 1)
ax2.set_xticks(np.arange(264, 275, 2))
ax2.set_yticks(np.arange(0, 1.01, 0.2))
style(ax2, 5)
ax2.set_xlabel('YEARDAY', fontsize=18, labelpad=0)
ax2.text(264.6, 0.1, 'b', ha='center', va='center', fontsize=18)
ax2.text(273.15, 0.595, 'D', ha='center', va='center', fontsize=18)
ax2.text(273.15, 0.19, 'C', ha='center', va='center', fontsize=18)

fig.text(41 / 1293, 1 - 306 / 655, r'<u$_w^2$ + v$_w^2$>$^{1/2}$ (m/s)', rotation=90,
         ha='center', va='center', fontsize=20)

fig.savefig('out.png', dpi=100)
